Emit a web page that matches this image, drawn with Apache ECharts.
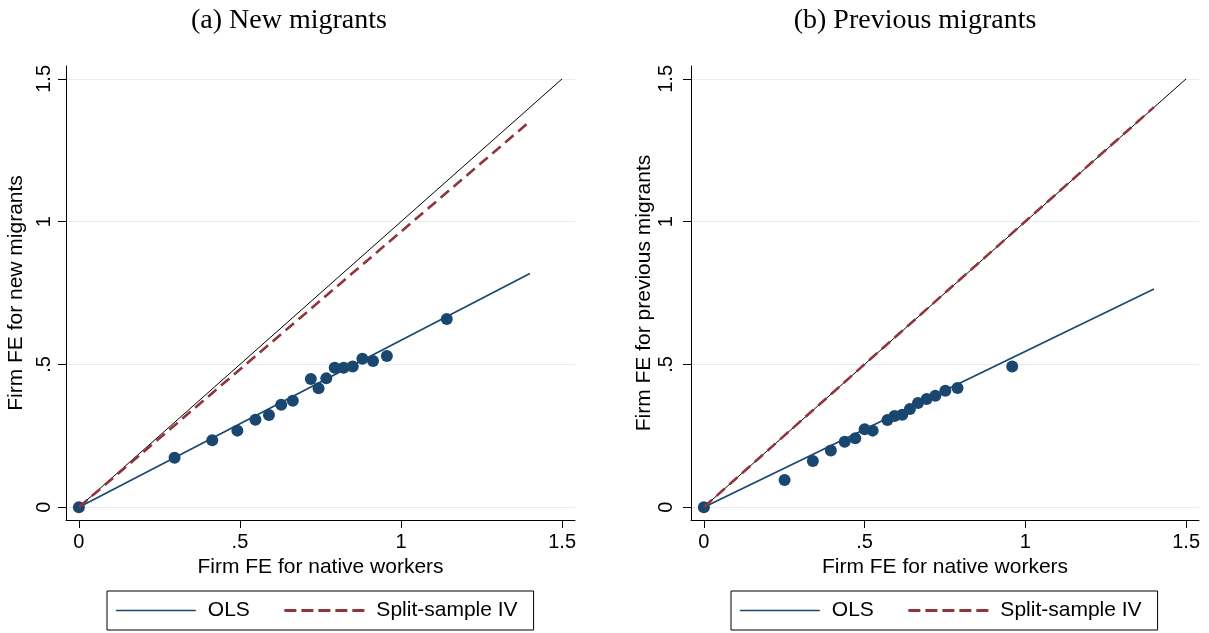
<!DOCTYPE html>
<html>
<head>
<meta charset="utf-8">
<script src="https://cdn.jsdelivr.net/npm/echarts@6/dist/echarts.min.js"></script>
<style>
  html, body { margin: 0; padding: 0; background: #ffffff; }
  #chart { width: 1209px; height: 633px; }
</style>
</head>
<body>
<div id="chart"></div>
<script>
// ---- Data ----
const panelTitles = ['(a) New migrants', '(b) Previous migrants'];
const yAxisTitles = ['Firm FE for new migrants', 'Firm FE for previous migrants'];
const xAxisTitle = 'Firm FE for native workers';
const tickValues = [0, 0.5, 1, 1.5];
const legendNames = ['OLS', 'Split-sample IV'];

// Panel (a): binned means
const newNativeFE  = [0, 0.297, 0.414, 0.492, 0.548, 0.590, 0.628, 0.664, 0.720, 0.744, 0.768, 0.794, 0.822, 0.850, 0.880, 0.913, 0.956, 1.142];
const newMigrantFE = [0, 0.173, 0.234, 0.268, 0.306, 0.323, 0.359, 0.373, 0.449, 0.416, 0.451, 0.488, 0.488, 0.493, 0.520, 0.512, 0.529, 0.659];
// Panel (b): binned means
const prevNativeFE  = [0, 0.251, 0.339, 0.395, 0.438, 0.471, 0.500, 0.525, 0.571, 0.593, 0.617, 0.641, 0.666, 0.693, 0.720, 0.751, 0.789, 0.959];
const prevMigrantFE = [0, 0.095, 0.162, 0.198, 0.229, 0.241, 0.273, 0.268, 0.305, 0.319, 0.324, 0.344, 0.365, 0.379, 0.390, 0.408, 0.417, 0.493];

// Fitted lines (x endpoints, y endpoints)
const fitX = [0, 1.4];
const olsNewY = [0, 0.818];
const ivNewY = [0, 1.351];
const olsPrevY = [0, 0.764];
const ivPrevY = [0, 1.401];
const diagX = [0, 1.5];
const diagY = [0, 1.5];

// ---- Styling ----
const SANS = "'Liberation Sans', Arial, Helvetica, sans-serif";
const SERIF = "'Liberation Serif', 'Times New Roman', serif";
const NAVY = '#1a476f';
const MAROON = '#90353b';
const GRID = '#e6edf1';
const IV_DASH = [11, 6];

const pairs = (xs, ys) => xs.map((x, i) => [x, ys[i]]);
const fmt = v => (v === 0 ? '0' : String(v).replace(/^0\./, '.'));

const grids = [
  { left: 66, top: 66, width: 509, height: 454 },
  { left: 691, top: 66, width: 508, height: 454 }
];

function xAxisFor(i) {
  return {
    type: 'value', gridIndex: i, min: -0.04, max: 1.54,
    name: xAxisTitle, nameLocation: 'middle', nameGap: 35,
    nameTextStyle: { fontFamily: SANS, fontSize: 21, color: '#000' },
    axisLine: { show: true, onZero: false, lineStyle: { color: '#000', width: 1 } },
    axisTick: { show: true, length: 8, customValues: tickValues, lineStyle: { color: '#000', width: 1 } },
    axisLabel: { customValues: tickValues, formatter: fmt, margin: 12, fontFamily: SANS, fontSize: 20, color: '#000' },
    splitLine: { show: false }
  };
}
function yAxisFor(i, labelMargin, nameGap) {
  return {
    type: 'value', gridIndex: i, min: -0.045, max: 1.545,
    name: yAxisTitles[i], nameLocation: 'middle', nameGap: nameGap, nameRotate: 90,
    nameTextStyle: { fontFamily: SANS, fontSize: 21, color: '#000' },
    axisLine: { show: true, onZero: false, lineStyle: { color: '#000', width: 1 } },
    axisTick: { show: true, length: 8, customValues: tickValues, lineStyle: { color: '#000', width: 1 } },
    axisLabel: { customValues: tickValues, formatter: fmt, rotate: 90, margin: labelMargin, fontFamily: SANS, fontSize: 20, color: '#000' },
    splitLine: { show: true, lineStyle: { color: GRID, width: 1 } }
  };
}

function panelSeries(i, xs, ys, olsY, ivY) {
  return [
    {
      name: 'Binned means', type: 'scatter', xAxisIndex: i, yAxisIndex: i,
      data: pairs(xs, ys), symbol: 'circle', symbolSize: 12,
      itemStyle: { color: NAVY, opacity: 1 }, silent: true
    },
    {
      name: legendNames[0], type: 'line', xAxisIndex: i, yAxisIndex: i,
      data: pairs(fitX, olsY), symbol: 'none', showSymbol: false, silent: true,
      itemStyle: { color: NAVY },
      lineStyle: { color: NAVY, width: 1.7, type: 'solid' }
    },
    {
      name: '45-degree line', type: 'line', xAxisIndex: i, yAxisIndex: i,
      data: pairs(diagX, diagY), symbol: 'none', showSymbol: false, silent: true,
      itemStyle: { color: '#000' },
      lineStyle: { color: '#000', width: 1, type: 'solid' }
    },
    {
      name: legendNames[1], type: 'line', xAxisIndex: i, yAxisIndex: i,
      data: pairs(fitX, ivY), symbol: 'none', showSymbol: false, silent: true,
      itemStyle: { color: MAROON },
      lineStyle: { color: MAROON, width: 2.6, type: IV_DASH }
    }
  ];
}

function legendFor(left) {
  return {
    data: [
      { name: legendNames[0], lineStyle: { color: NAVY, width: 1.7, type: 'solid' } },
      { name: legendNames[1], lineStyle: { color: MAROON, width: 3, type: [12, 5] } }
    ],
    left: left, top: 591, orient: 'horizontal',
    itemWidth: 80, itemHeight: 14, itemGap: 33,
    padding: [9, 16, 9, 8], borderColor: '#000', borderWidth: 1,
    selectedMode: false,
    itemStyle: { opacity: 0 },
    textStyle: { fontFamily: SANS, fontSize: 21, color: '#000', padding: [0, 0, 0, 7] }
  };
}

const option = {
  backgroundColor: '#ffffff',
  animation: false,
  title: [
    { text: panelTitles[0], left: 284, top: 2, textAlign: 'center',
      textStyle: { fontFamily: SERIF, fontSize: 28, fontWeight: 'normal', color: '#000' } },
    { text: panelTitles[1], left: 910, top: 2, textAlign: 'center',
      textStyle: { fontFamily: SERIF, fontSize: 28, fontWeight: 'normal', color: '#000' } }
  ],
  grid: grids,
  xAxis: [xAxisFor(0), xAxisFor(1)],
  yAxis: [yAxisFor(0, 12, 39), yAxisFor(1, 15, 35)],
  legend: [legendFor(107), legendFor(731)],
  series: [].concat(
    panelSeries(0, newNativeFE, newMigrantFE, olsNewY, ivNewY),
    panelSeries(1, prevNativeFE, prevMigrantFE, olsPrevY, ivPrevY)
  )
};

const chart = echarts.init(document.getElementById('chart'), null, { renderer: 'canvas' });
chart.setOption(option);
</script>
</body>
</html>
